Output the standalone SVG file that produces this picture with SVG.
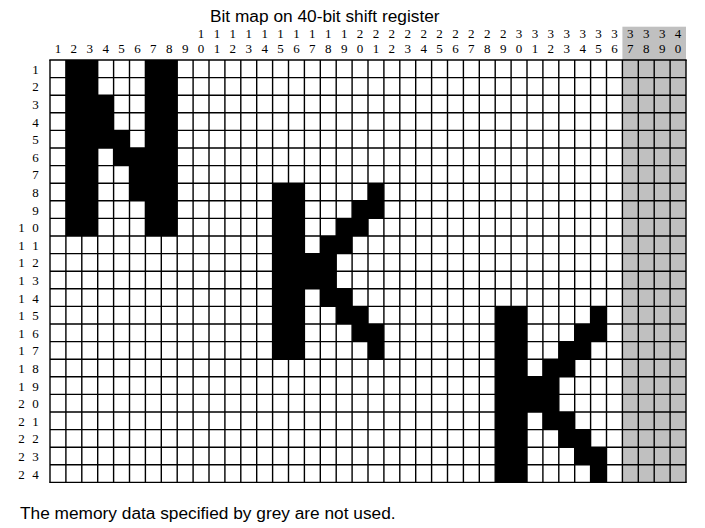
<svg xmlns="http://www.w3.org/2000/svg" xmlns:xlink="http://www.w3.org/1999/xlink" width="705" height="528" viewBox="0 0 705 528">
<style>
.title{font-family:"Liberation Sans",Arial,sans-serif;font-size:17.3px;fill:#000}
.n{font-family:"Liberation Serif","Times New Roman",serif;font-size:13px;fill:#000;text-anchor:middle}
.grid{stroke:#000;stroke-width:1.4;fill:none}
.on{fill:#000}
.unused{fill:#c0c0c0}
</style>
<defs>
<g id="k-shape">
<rect x="0" y="0" width="2" height="10"/>
<rect x="6" y="0" width="1" height="1"/>
<rect x="5" y="1" width="2" height="1"/>
<rect x="4" y="2" width="2" height="1"/>
<rect x="3" y="3" width="2" height="1"/>
<rect x="2" y="4" width="2" height="2"/>
<rect x="3" y="6" width="2" height="1"/>
<rect x="4" y="7" width="2" height="1"/>
<rect x="5" y="8" width="2" height="1"/>
<rect x="6" y="9" width="1" height="1"/>
</g>
</defs>
<rect width="705" height="528" fill="#fff"/>
<text id="title" class="title" x="210" y="21.7">Bit map on 40-bit shift register</text>
<g id="unused-area">
<rect class="unused" x="622.4" y="26.7" width="63.6" height="33.3"/>
<g transform="translate(50,60) scale(15.9,17.6)">
<rect class="unused" x="36" y="0" width="4" height="24"/>
</g>
</g>
<g id="bits" class="on" transform="translate(50,60) scale(15.9,17.6)">
<g id="letter-h">
<rect x="1" y="0" width="2" height="10"/>
<rect x="6" y="0" width="2" height="10"/>
<rect x="3" y="2" width="1" height="3"/>
<rect x="4" y="4" width="1" height="2"/>
<rect x="5" y="5" width="1" height="3"/>
</g>
<use id="letter-k1" xlink:href="#k-shape" href="#k-shape" x="14" y="7"/>
<use id="letter-k2" xlink:href="#k-shape" href="#k-shape" x="28" y="14"/>
</g>
<g id="grid-lines">
<path class="grid" d="M50,60V482.4M65.9,60V482.4M81.8,60V482.4M97.7,60V482.4M113.6,60V482.4M129.5,60V482.4M145.4,60V482.4M161.3,60V482.4M177.2,60V482.4M193.1,60V482.4M209,60V482.4M224.9,60V482.4M240.8,60V482.4M256.7,60V482.4M272.6,60V482.4M288.5,60V482.4M304.4,60V482.4M320.3,60V482.4M336.2,60V482.4M352.1,60V482.4M368,60V482.4M383.9,60V482.4M399.8,60V482.4M415.7,60V482.4M431.6,60V482.4M447.5,60V482.4M463.4,60V482.4M479.3,60V482.4M495.2,60V482.4M511.1,60V482.4M527,60V482.4M542.9,60V482.4M558.8,60V482.4M574.7,60V482.4M590.6,60V482.4M606.5,60V482.4M622.4,60V482.4M638.3,60V482.4M654.2,60V482.4M670.1,60V482.4M686,60V482.4"/>
<path class="grid" d="M49.3,60H686.7M50,77.6H686M50,95.2H686M50,112.8H686M50,130.4H686M50,148H686M50,165.6H686M50,183.2H686M50,200.8H686M50,218.4H686M50,236H686M50,253.6H686M50,271.2H686M50,288.8H686M50,306.4H686M50,324H686M50,341.6H686M50,359.2H686M50,376.8H686M50,394.4H686M50,412H686M50,429.6H686M50,447.2H686M50,464.8H686M49.3,482.4H686.7"/>
</g>
<g id="column-numbers">
<text class="n" x="57.95" y="53">1</text>
<text class="n" x="73.85" y="53">2</text>
<text class="n" x="89.75" y="53">3</text>
<text class="n" x="105.65" y="53">4</text>
<text class="n" x="121.55" y="53">5</text>
<text class="n" x="137.45" y="53">6</text>
<text class="n" x="153.35" y="53">7</text>
<text class="n" x="169.25" y="53">8</text>
<text class="n" x="185.15" y="53">9</text>
<text class="n" x="201.05" y="38">1</text><text class="n" x="201.05" y="53">0</text>
<text class="n" x="216.95" y="38">1</text><text class="n" x="216.95" y="53">1</text>
<text class="n" x="232.85" y="38">1</text><text class="n" x="232.85" y="53">2</text>
<text class="n" x="248.75" y="38">1</text><text class="n" x="248.75" y="53">3</text>
<text class="n" x="264.65" y="38">1</text><text class="n" x="264.65" y="53">4</text>
<text class="n" x="280.55" y="38">1</text><text class="n" x="280.55" y="53">5</text>
<text class="n" x="296.45" y="38">1</text><text class="n" x="296.45" y="53">6</text>
<text class="n" x="312.35" y="38">1</text><text class="n" x="312.35" y="53">7</text>
<text class="n" x="328.25" y="38">1</text><text class="n" x="328.25" y="53">8</text>
<text class="n" x="344.15" y="38">1</text><text class="n" x="344.15" y="53">9</text>
<text class="n" x="360.05" y="38">2</text><text class="n" x="360.05" y="53">0</text>
<text class="n" x="375.95" y="38">2</text><text class="n" x="375.95" y="53">1</text>
<text class="n" x="391.85" y="38">2</text><text class="n" x="391.85" y="53">2</text>
<text class="n" x="407.75" y="38">2</text><text class="n" x="407.75" y="53">3</text>
<text class="n" x="423.65" y="38">2</text><text class="n" x="423.65" y="53">4</text>
<text class="n" x="439.55" y="38">2</text><text class="n" x="439.55" y="53">5</text>
<text class="n" x="455.45" y="38">2</text><text class="n" x="455.45" y="53">6</text>
<text class="n" x="471.35" y="38">2</text><text class="n" x="471.35" y="53">7</text>
<text class="n" x="487.25" y="38">2</text><text class="n" x="487.25" y="53">8</text>
<text class="n" x="503.15" y="38">2</text><text class="n" x="503.15" y="53">9</text>
<text class="n" x="519.05" y="38">3</text><text class="n" x="519.05" y="53">0</text>
<text class="n" x="534.95" y="38">3</text><text class="n" x="534.95" y="53">1</text>
<text class="n" x="550.85" y="38">3</text><text class="n" x="550.85" y="53">2</text>
<text class="n" x="566.75" y="38">3</text><text class="n" x="566.75" y="53">3</text>
<text class="n" x="582.65" y="38">3</text><text class="n" x="582.65" y="53">4</text>
<text class="n" x="598.55" y="38">3</text><text class="n" x="598.55" y="53">5</text>
<text class="n" x="614.45" y="38">3</text><text class="n" x="614.45" y="53">6</text>
<text class="n" x="630.35" y="38">3</text><text class="n" x="630.35" y="53">7</text>
<text class="n" x="646.25" y="38">3</text><text class="n" x="646.25" y="53">8</text>
<text class="n" x="662.15" y="38">3</text><text class="n" x="662.15" y="53">9</text>
<text class="n" x="678.05" y="38">4</text><text class="n" x="678.05" y="53">0</text>
</g>
<g id="row-numbers">
<text class="n" x="35.5" y="73.8">1</text>
<text class="n" x="35.5" y="91.4">2</text>
<text class="n" x="35.5" y="109">3</text>
<text class="n" x="35.5" y="126.6">4</text>
<text class="n" x="35.5" y="144.2">5</text>
<text class="n" x="35.5" y="161.8">6</text>
<text class="n" x="35.5" y="179.4">7</text>
<text class="n" x="35.5" y="197">8</text>
<text class="n" x="35.5" y="214.6">9</text>
<text class="n" x="21.5" y="232.2">1</text><text class="n" x="35.5" y="232.2">0</text>
<text class="n" x="21.5" y="249.8">1</text><text class="n" x="35.5" y="249.8">1</text>
<text class="n" x="21.5" y="267.4">1</text><text class="n" x="35.5" y="267.4">2</text>
<text class="n" x="21.5" y="285">1</text><text class="n" x="35.5" y="285">3</text>
<text class="n" x="21.5" y="302.6">1</text><text class="n" x="35.5" y="302.6">4</text>
<text class="n" x="21.5" y="320.2">1</text><text class="n" x="35.5" y="320.2">5</text>
<text class="n" x="21.5" y="337.8">1</text><text class="n" x="35.5" y="337.8">6</text>
<text class="n" x="21.5" y="355.4">1</text><text class="n" x="35.5" y="355.4">7</text>
<text class="n" x="21.5" y="373">1</text><text class="n" x="35.5" y="373">8</text>
<text class="n" x="21.5" y="390.6">1</text><text class="n" x="35.5" y="390.6">9</text>
<text class="n" x="21.5" y="408.2">2</text><text class="n" x="35.5" y="408.2">0</text>
<text class="n" x="21.5" y="425.8">2</text><text class="n" x="35.5" y="425.8">1</text>
<text class="n" x="21.5" y="443.4">2</text><text class="n" x="35.5" y="443.4">2</text>
<text class="n" x="21.5" y="461">2</text><text class="n" x="35.5" y="461">3</text>
<text class="n" x="21.5" y="478.6">2</text><text class="n" x="35.5" y="478.6">4</text>
</g>
<text id="note" class="title" x="20" y="519.3">The memory data specified by grey are not used.</text>
</svg>
